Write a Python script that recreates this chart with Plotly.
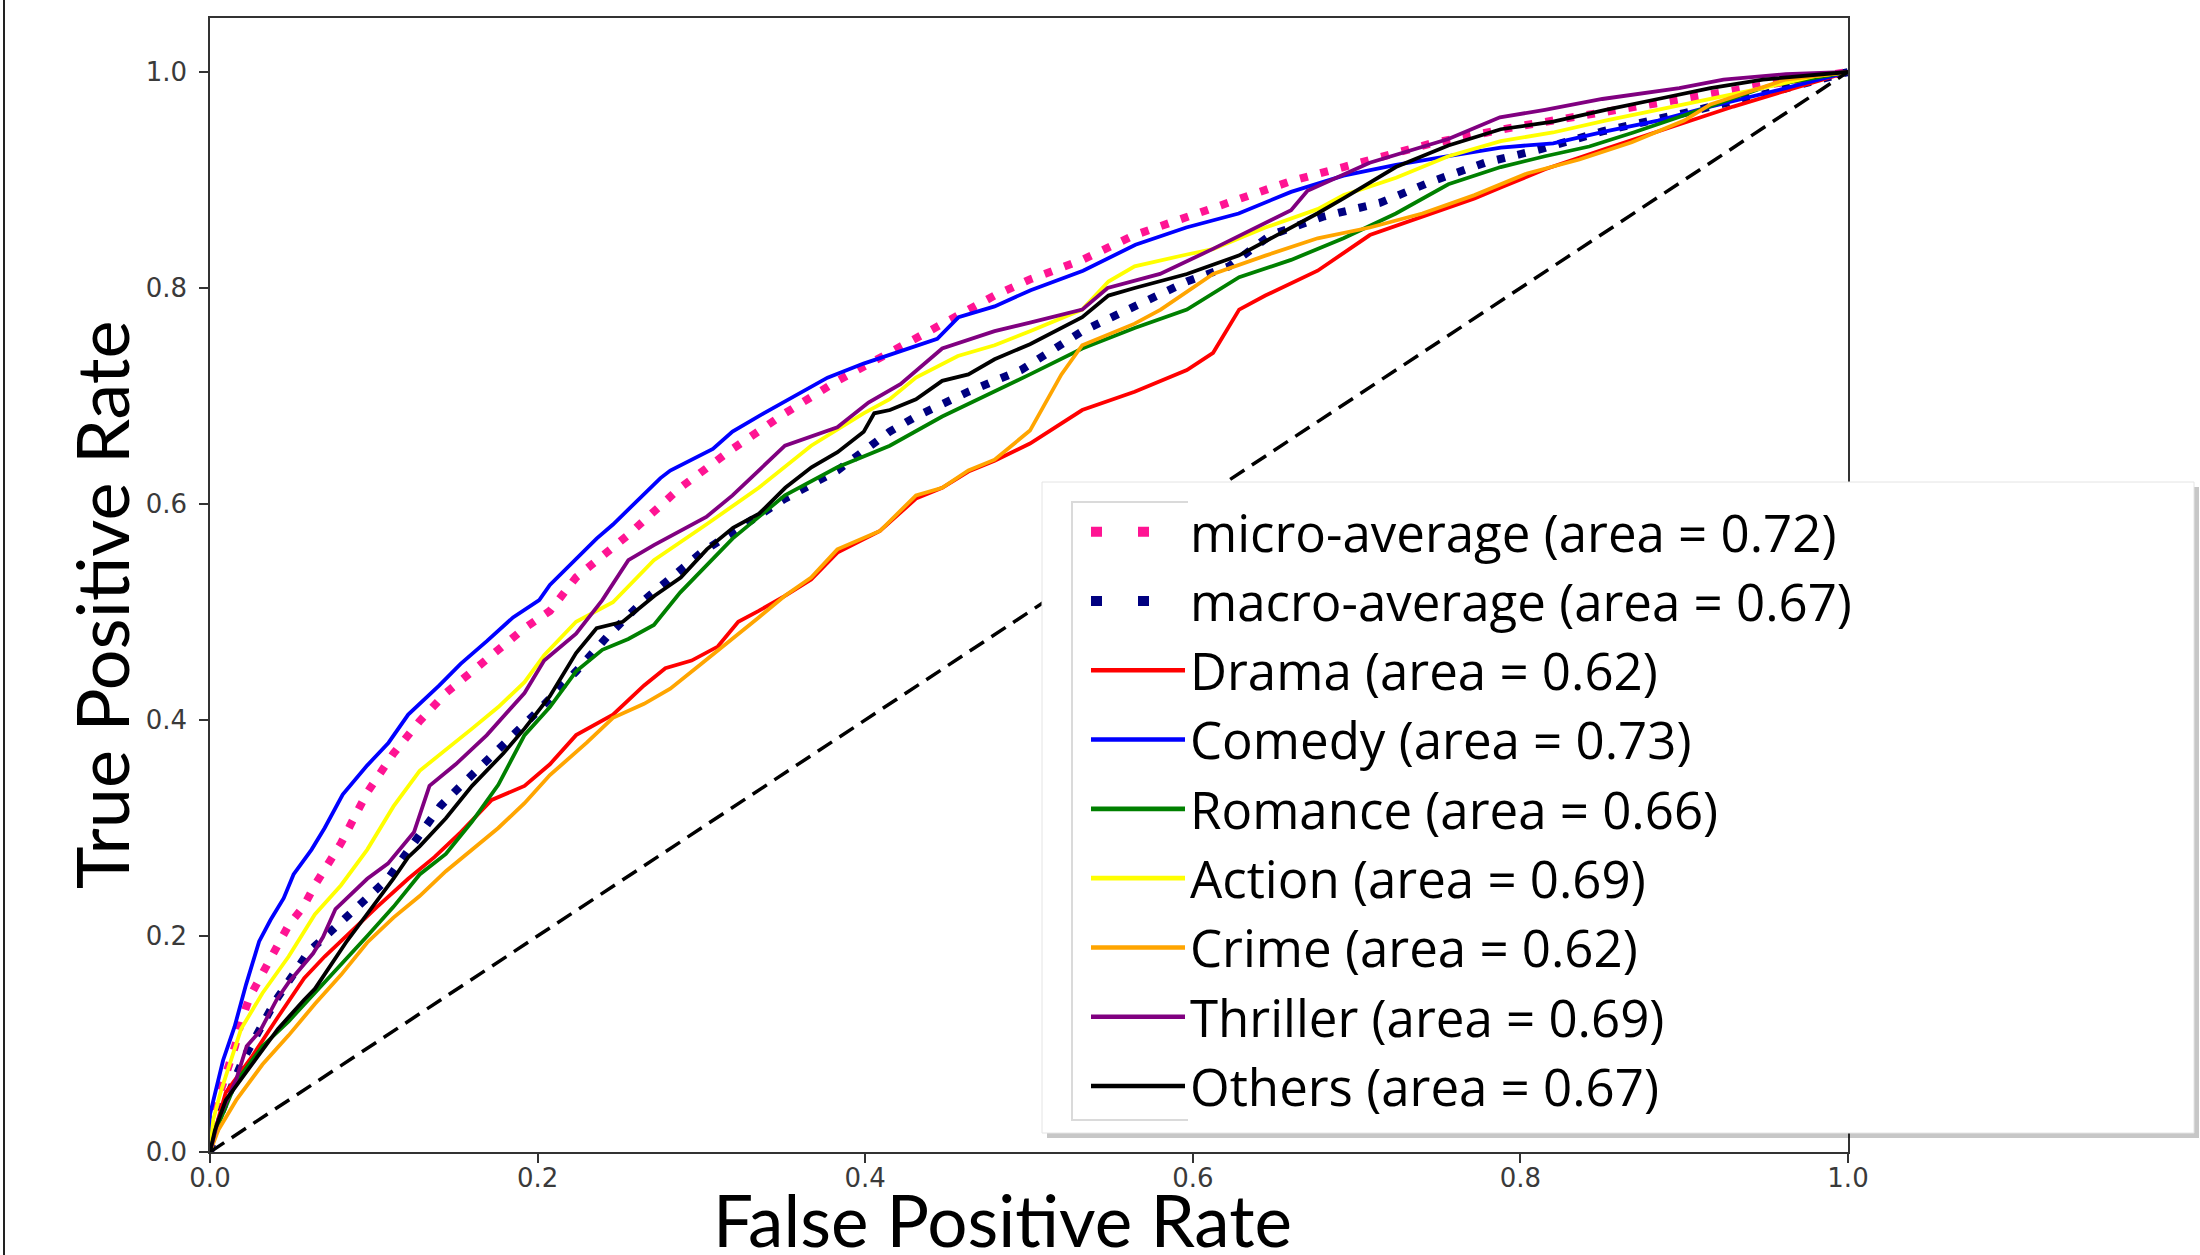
import plotly.graph_objects as go

# ---------------- data ----------------
series_names = ["micro-average", "macro-average", "Drama", "Comedy", "Romance",
                "Action", "Crime", "Thriller", "Others"]
series_auc = [0.72, 0.67, 0.62, 0.73, 0.66, 0.69, 0.62, 0.69, 0.67]

micro_fpr = [0, 0.005, 0.0153, 0.019, 0.0244, 0.0326, 0.0397, 0.048, 0.057, 0.064, 0.080, 0.096, 0.112,
             0.128, 0.144, 0.160, 0.176, 0.192, 0.2075, 0.2235, 0.255, 0.287, 0.319, 0.351, 0.383, 0.415,
             0.447, 0.479, 0.5006, 0.5325, 0.5645, 0.596, 0.628, 0.660, 0.692, 0.724, 0.746, 0.80, 0.85,
             0.90, 0.95, 1.0]
micro_tpr = [0, 0.05, 0.098, 0.121, 0.144, 0.167, 0.187, 0.210, 0.227, 0.247, 0.286, 0.333, 0.369,
             0.399, 0.425, 0.445, 0.465, 0.485, 0.501, 0.532, 0.571, 0.615, 0.651, 0.684, 0.714, 0.740,
             0.767, 0.793, 0.808, 0.826, 0.849, 0.866, 0.883, 0.899, 0.912, 0.924, 0.934, 0.950, 0.963,
             0.976, 0.988, 1.0]

macro_fpr = [0, 0.005, 0.02, 0.04, 0.06, 0.0733, 0.086, 0.1086, 0.131, 0.1405, 0.153, 0.179, 0.198,
             0.2235, 0.243, 0.265, 0.30, 0.351, 0.383, 0.415, 0.431, 0.463, 0.495, 0.5325, 0.5645, 0.5964,
             0.622, 0.6475, 0.6794, 0.7145, 0.7464, 0.7784, 0.8135, 0.85, 0.90, 0.95, 1.0]
macro_tpr = [0, 0.03, 0.085, 0.14, 0.185, 0.204, 0.223, 0.253, 0.300, 0.320, 0.339, 0.376, 0.405,
             0.445, 0.478, 0.511, 0.555, 0.605, 0.631, 0.667, 0.681, 0.704, 0.724, 0.760, 0.783, 0.806,
             0.820, 0.849, 0.866, 0.879, 0.899, 0.916, 0.929, 0.945, 0.962, 0.980, 1.0]

drama_fpr = [0, 0.004, 0.0096, 0.0255, 0.0415, 0.0575, 0.070, 0.083, 0.102, 0.121, 0.137, 0.153, 0.172,
             0.192, 0.2075, 0.2235, 0.246, 0.265, 0.278, 0.294, 0.310, 0.3225, 0.335, 0.351, 0.367, 0.383,
             0.409, 0.431, 0.447, 0.463, 0.479, 0.5006, 0.5325, 0.5645, 0.5964, 0.6124, 0.6283, 0.6443,
             0.6762, 0.7081, 0.7401, 0.772, 0.788, 0.815, 0.852, 0.884, 0.93, 1.0]
drama_tpr = [0, 0.025, 0.055, 0.088, 0.125, 0.161, 0.181, 0.200, 0.227, 0.253, 0.273, 0.296, 0.326,
             0.339, 0.359, 0.386, 0.405, 0.432, 0.448, 0.455, 0.468, 0.491, 0.501, 0.515, 0.530, 0.555,
             0.575, 0.605, 0.615, 0.630, 0.640, 0.656, 0.687, 0.704, 0.724, 0.740, 0.780, 0.793,
             0.816, 0.849, 0.866, 0.883, 0.893, 0.910, 0.929, 0.945, 0.968, 1.0]

comedy_fpr = [0, 0, 0.004, 0.008, 0.015, 0.022, 0.030, 0.037, 0.045, 0.051, 0.062, 0.070, 0.081, 0.096,
              0.109, 0.121, 0.140, 0.153, 0.169, 0.185, 0.201, 0.2075, 0.236, 0.246, 0.275, 0.281, 0.307,
              0.319, 0.338, 0.377, 0.399, 0.444, 0.457, 0.479, 0.501, 0.533, 0.565, 0.596, 0.628, 0.660,
              0.692, 0.724, 0.756, 0.788, 0.820, 0.852, 0.884, 0.916, 0.962, 1.0]
comedy_tpr = [0, 0.035, 0.06, 0.085, 0.116, 0.155, 0.195, 0.215, 0.235, 0.257, 0.280, 0.300, 0.331, 0.358,
              0.379, 0.405, 0.432, 0.452, 0.473, 0.495, 0.511, 0.525, 0.568, 0.581, 0.624, 0.631, 0.651,
              0.667, 0.684, 0.717, 0.730, 0.753, 0.773, 0.783, 0.798, 0.816, 0.840, 0.856, 0.869, 0.889,
              0.904, 0.914, 0.922, 0.930, 0.934, 0.945, 0.955, 0.968, 0.985, 1.0]

romance_fpr = [0, 0.005, 0.016, 0.032, 0.048, 0.064, 0.080, 0.096, 0.112, 0.128, 0.144, 0.160, 0.176,
               0.192, 0.2075, 0.2235, 0.2395, 0.2554, 0.271, 0.287, 0.319, 0.351, 0.383, 0.415, 0.447,
               0.479, 0.5006, 0.5325, 0.5645, 0.5964, 0.6283, 0.660, 0.692, 0.724, 0.756, 0.788, 0.815,
               0.842, 0.869, 0.910, 0.951, 1.0]
romance_tpr = [0, 0.025, 0.065, 0.098, 0.121, 0.147, 0.174, 0.200, 0.227, 0.257, 0.276, 0.306, 0.340,
               0.386, 0.412, 0.445, 0.465, 0.475, 0.488, 0.518, 0.568, 0.608, 0.634, 0.654, 0.681,
               0.704, 0.720, 0.744, 0.763, 0.780, 0.810, 0.826, 0.846, 0.869, 0.896, 0.912, 0.922,
               0.931, 0.944, 0.965, 0.987, 1.0]

action_fpr = [0, 0.002, 0.0064, 0.019, 0.032, 0.048, 0.064, 0.080, 0.096, 0.112, 0.128, 0.144, 0.160,
              0.176, 0.192, 0.204, 0.2235, 0.246, 0.271, 0.303, 0.335, 0.367, 0.399, 0.415, 0.431, 0.4566,
              0.479, 0.5006, 0.5325, 0.5485, 0.5645, 0.5964, 0.6123, 0.6443, 0.6762, 0.6922, 0.7241,
              0.756, 0.788, 0.8199, 0.8518, 0.8837, 0.9157, 0.9476, 0.979, 1.0]
action_tpr = [0, 0.03, 0.055, 0.114, 0.147, 0.181, 0.220, 0.247, 0.280, 0.320, 0.353, 0.372, 0.392,
              0.412, 0.435, 0.46, 0.491, 0.509, 0.548, 0.581, 0.615, 0.654, 0.684, 0.697, 0.717, 0.737,
              0.747, 0.760, 0.780, 0.806, 0.820, 0.831, 0.836, 0.856, 0.873, 0.886, 0.902,
              0.922, 0.936, 0.944, 0.955, 0.965, 0.975, 0.985, 0.996, 1.0]

crime_fpr = [0, 0.005, 0.016, 0.032, 0.048, 0.064, 0.080, 0.096, 0.112, 0.128, 0.144, 0.160, 0.176,
             0.192, 0.2075, 0.230, 0.246, 0.265, 0.281, 0.300, 0.319, 0.335, 0.351, 0.367, 0.383, 0.409,
             0.431, 0.447, 0.463, 0.479, 0.5006, 0.5198, 0.5325, 0.5645, 0.5804, 0.6124, 0.6443, 0.6762,
             0.7081, 0.7401, 0.772, 0.804, 0.836, 0.868, 0.900, 0.916, 0.962, 1.0]
crime_tpr = [0, 0.02, 0.048, 0.081, 0.108, 0.137, 0.164, 0.194, 0.217, 0.237, 0.260, 0.280, 0.300,
             0.323, 0.349, 0.379, 0.402, 0.415, 0.429, 0.452, 0.475, 0.495, 0.515, 0.532, 0.558, 0.575,
             0.608, 0.615, 0.631, 0.641, 0.668, 0.720, 0.747, 0.767, 0.780, 0.813, 0.830, 0.846,
             0.856, 0.869, 0.886, 0.906, 0.919, 0.935, 0.955, 0.970, 0.993, 1.0]

thriller_fpr = [0, 0.005, 0.016, 0.0224, 0.0305, 0.0407, 0.048, 0.053, 0.063, 0.069, 0.0766, 0.096,
                0.1086, 0.1245, 0.134, 0.150, 0.169, 0.192, 0.204, 0.2235, 0.2395, 0.2554, 0.271, 0.303,
                0.319, 0.351, 0.383, 0.402, 0.4215, 0.447, 0.479, 0.5006, 0.5325, 0.548, 0.580, 0.612,
                0.635, 0.660, 0.670, 0.708, 0.756, 0.7875, 0.815, 0.850, 0.897, 0.924, 0.962, 1.0]
thriller_tpr = [0, 0.03, 0.067, 0.098, 0.112, 0.141, 0.157, 0.166, 0.184, 0.199, 0.225, 0.253,
                0.267, 0.296, 0.339, 0.359, 0.386, 0.425, 0.455, 0.480, 0.511, 0.548, 0.562, 0.588,
                0.608, 0.654, 0.671, 0.694, 0.711, 0.744, 0.760, 0.768, 0.780, 0.800, 0.813, 0.836,
                0.853, 0.872, 0.890, 0.916, 0.938, 0.958, 0.965, 0.975, 0.985, 0.993, 0.998, 1.0]

others_fpr = [0, 0.003, 0.0096, 0.0255, 0.0415, 0.0575, 0.064, 0.083, 0.096, 0.112, 0.121, 0.128, 0.144,
              0.160, 0.179, 0.192, 0.2075, 0.2235, 0.236, 0.252, 0.2714, 0.2874, 0.3033, 0.3193, 0.3352,
              0.3512, 0.3672, 0.3831, 0.3991, 0.4055, 0.4151, 0.431, 0.447, 0.463, 0.479, 0.4949, 0.5006,
              0.5325, 0.5485, 0.5645, 0.5964, 0.628, 0.644, 0.660, 0.676, 0.692, 0.724, 0.756, 0.788,
              0.820, 0.852, 0.884, 0.916, 0.948, 1.0]
others_tpr = [0, 0.02, 0.048, 0.081, 0.114, 0.141, 0.151, 0.194, 0.220, 0.253, 0.273, 0.283, 0.309,
              0.339, 0.369, 0.392, 0.422, 0.462, 0.485, 0.491, 0.515, 0.532, 0.558, 0.578, 0.591,
              0.615, 0.634, 0.648, 0.667, 0.684, 0.687, 0.697, 0.714, 0.720, 0.734, 0.745, 0.748,
              0.773, 0.793, 0.800, 0.813, 0.830, 0.843, 0.856, 0.869, 0.883, 0.912, 0.932, 0.947,
              0.954, 0.965, 0.975, 0.985, 0.993, 1.0]

chance_fpr = [0, 1]
chance_tpr = [0, 1]

x_ticks = [0.0, 0.2, 0.4, 0.6, 0.8, 1.0]
y_ticks = [0.0, 0.2, 0.4, 0.6, 0.8, 1.0]
x_title = "False Positive Rate"
y_title = "True Positive Rate"

# ---------------- styling ----------------
series_fpr = [micro_fpr, macro_fpr, drama_fpr, comedy_fpr, romance_fpr,
              action_fpr, crime_fpr, thriller_fpr, others_fpr]
series_tpr = [micro_tpr, macro_tpr, drama_tpr, comedy_tpr, romance_tpr,
              action_tpr, crime_tpr, thriller_tpr, others_tpr]
series_colors = ["#ff1493", "#000080", "#ff0000", "#0000ff", "#008000",
                 "#ffff00", "#ffa500", "#800080", "#000000"]
dotted = [True, True, False, False, False, False, False, False, False]

W, H = 2200, 1255
ML, MR, MT, MB = 210, 352, 18, 103
PW = W - ML - MR
PH = H - MT - MB


def px(X):
    return (X - ML) / PW


def py(Y):
    return (H - MB - Y) / PH


fig = go.Figure()
# curves in the plot
for name, xs, ys, col, is_dot in zip(series_names, series_fpr, series_tpr, series_colors, dotted):
    fig.add_trace(go.Scatter(
        x=xs, y=ys, mode="lines", name=name, legendgroup=name, showlegend=False,
        line=dict(color=col, width=8 if is_dot else 3.8, dash="8px,13px" if is_dot else "solid"),
        hoverinfo="skip"))

# chance diagonal
fig.add_trace(go.Scatter(x=chance_fpr, y=chance_tpr, mode="lines", showlegend=False,
                         line=dict(color="black", width=3.5, dash="17px,9px"), hoverinfo="skip"))

# legend entries (the legend box of the reference is drawn enlarged)
for name, auc, col, is_dot in zip(series_names, series_auc, series_colors, dotted):
    fig.add_trace(go.Scatter(
        x=[None], y=[None], mode="lines", name=f"{name} (area = {auc:.2f})", legendgroup=name,
        line=dict(color=col, width=10 if is_dot else 4.6, dash="11px,36px" if is_dot else "solid"),
        hoverinfo="skip"))

axis_common = dict(showline=True, mirror=True, linecolor="#333333", linewidth=1.6,
                   ticks="outside", ticklen=9, tickwidth=1.5, tickcolor="#333333",
                   tickfont=dict(family="DejaVu Sans", size=26, color="#3a3a3a"),
                   showgrid=False, zeroline=False, tickformat=".1f")

fig.update_layout(
    width=W, height=H,
    margin=dict(l=ML, r=MR, t=MT, b=MB, autoexpand=False),
    paper_bgcolor="white", plot_bgcolor="white",
    xaxis=dict(range=[0, 1], tickvals=x_ticks, ticklabelstandoff=-7, **axis_common),
    yaxis=dict(range=[0, 1.05], tickvals=y_ticks, ticklabelstandoff=7, **axis_common),
    legend=dict(x=px(1086), y=py(492), xanchor="left", yanchor="top",
                bgcolor="rgba(0,0,0,0)", borderwidth=0, itemwidth=94,
                font=dict(family="Open Sans", size=51, color="black"),
                tracegroupgap=0),
    showlegend=True,
)

shapes = [
    # left border line of the figure
    dict(type="line", xref="paper", yref="paper", x0=px(4), x1=px(4), y0=py(H), y1=py(0),
         line=dict(color="#222222", width=2), layer="above"),
    # legend shadow
    dict(type="rect", xref="paper", yref="paper", x0=px(1047), x1=px(2199), y0=py(1138), y1=py(487),
         fillcolor="rgba(0,0,0,0.22)", line=dict(width=0), layer="above"),
    # legend white box
    dict(type="rect", xref="paper", yref="paper", x0=px(1042), x1=px(2194), y0=py(1133), y1=py(482),
         fillcolor="white", line=dict(color="#e4e4e4", width=1), layer="above"),
    # inner (faint) legend frame
    dict(type="rect", xref="paper", yref="paper", x0=px(1072), x1=px(1260), y0=py(1120), y1=py(502),
         fillcolor="white", line=dict(color="#dadada", width=2), layer="above"),
    # white area behind the legend texts
    dict(type="rect", xref="paper", yref="paper", x0=px(1188), x1=px(2192), y0=py(1130), y1=py(486),
         fillcolor="white", line=dict(width=0), layer="above"),
]
fig.update_layout(shapes=shapes)

fig.add_annotation(text=x_title, xref="paper", yref="paper", x=px(1002), y=py(1219),
                   xanchor="center", yanchor="middle", showarrow=False,
                   font=dict(family="Lato", size=71, color="black"))
fig.add_annotation(text=y_title, xref="paper", yref="paper", x=px(101), y=py(605),
                   xanchor="center", yanchor="middle", showarrow=False, textangle=-90,
                   font=dict(family="Lato", size=72, color="black"))

fig.write_html("out.html", config={"displayModeBar": False},
               post_script="document.body.style.margin='0px';")
